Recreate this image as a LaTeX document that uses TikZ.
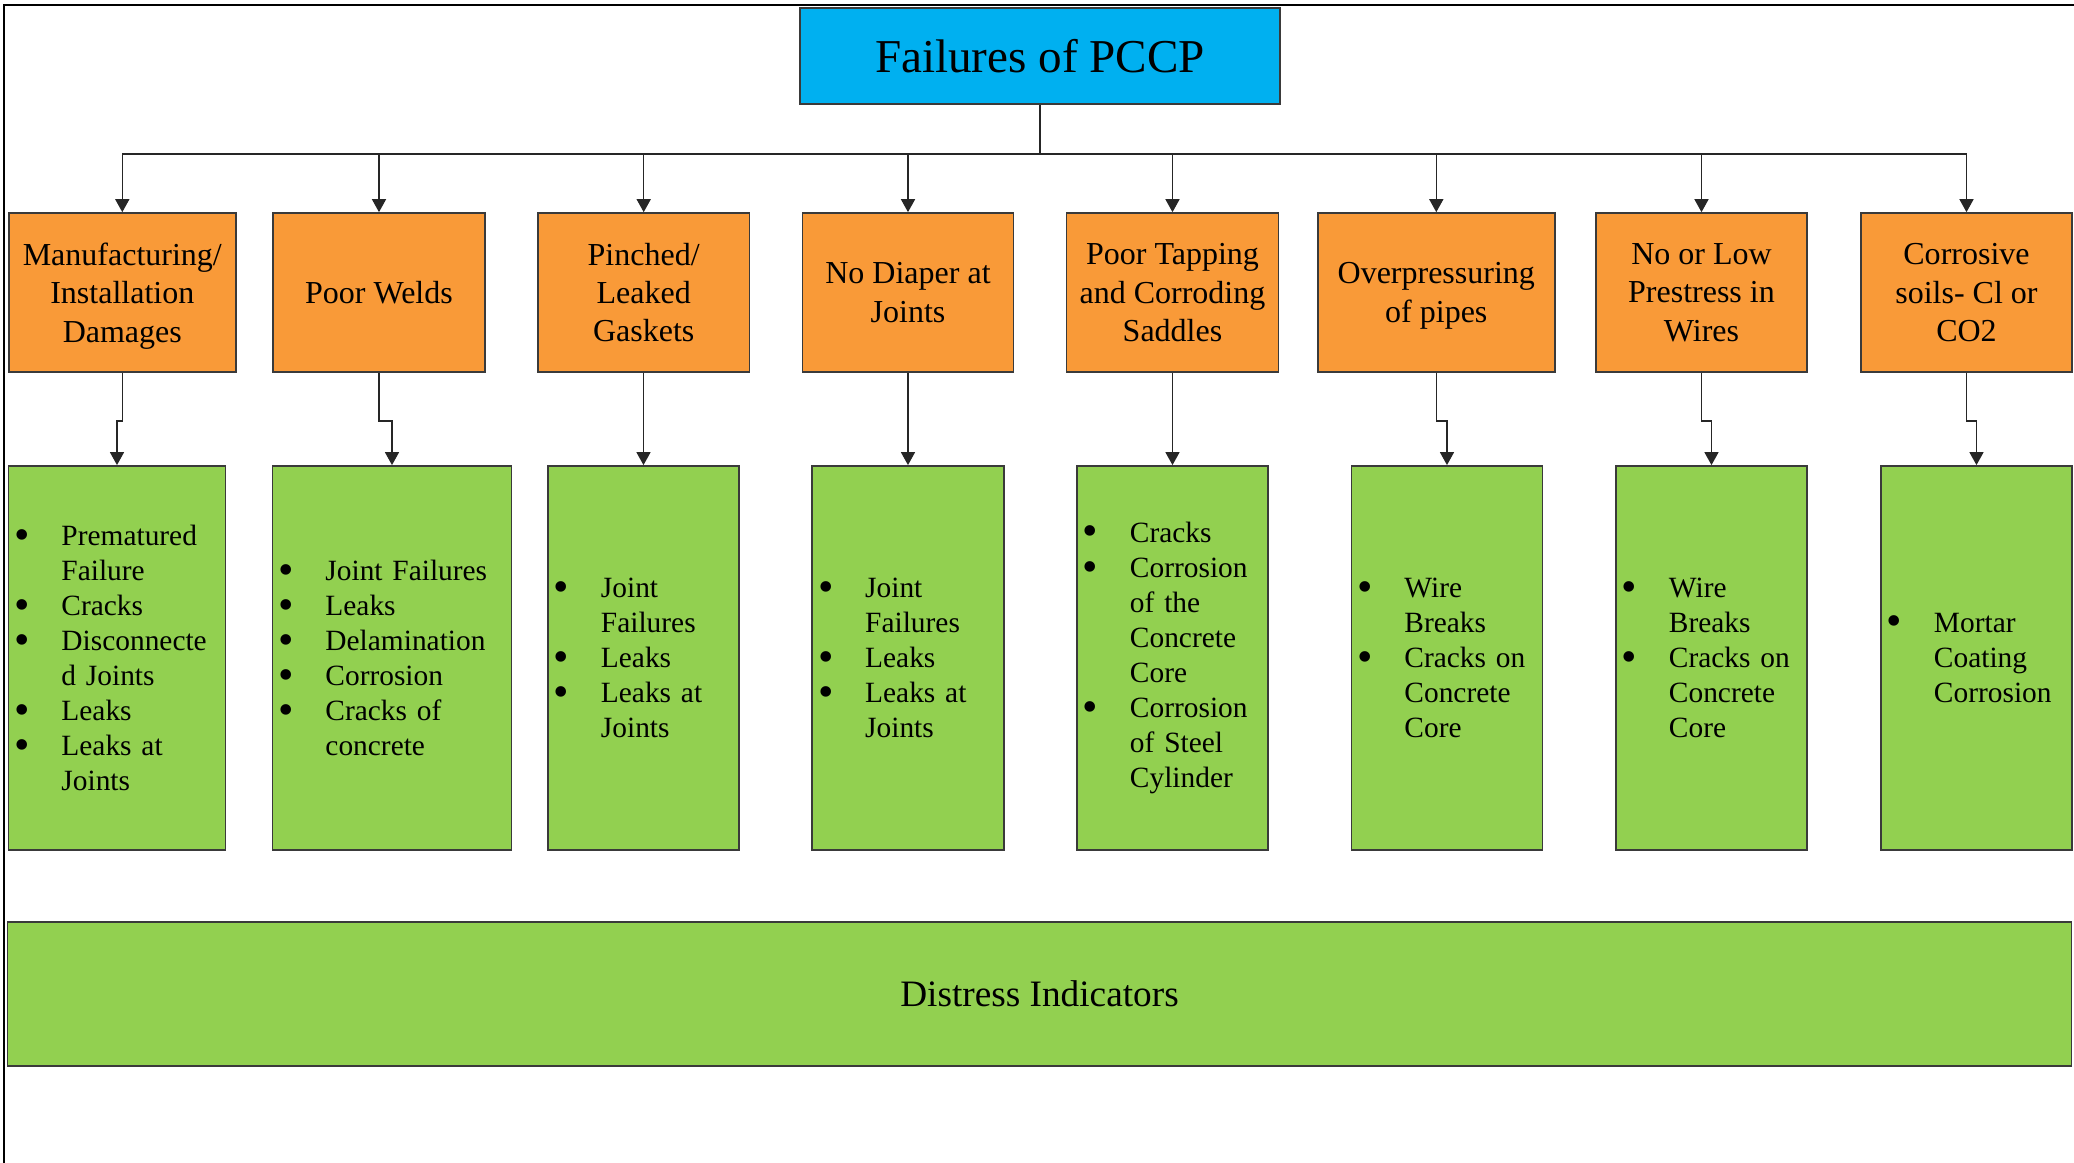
\documentclass[tikz,border=0pt]{standalone}
\usepackage{fontspec}
\setmainfont{Liberation Serif}
\usepackage{xcolor}
\usepackage{graphicx}
\usepackage{tikz}
\usetikzlibrary{arrows.meta}
\definecolor{TitleBlue}{HTML}{00B0F0}
\definecolor{CauseOrange}{HTML}{F99A38}
\definecolor{SignGreen}{HTML}{92D050}
\definecolor{EdgeDark}{HTML}{3A3A3A}

\newcommand\dotmark{\hspace*{-0.05cm}\raisebox{-0.12em}{\scalebox{1.5}{\textbullet}}}
\newcommand\itm[1]{\makebox[0.42cm][l]{\dotmark}\mbox{#1}}
\newcommand\cnt[1]{\hspace*{0.42cm}\mbox{#1}}

\tikzset{
  titlebox/.style={draw=EdgeDark, fill=TitleBlue, line width=0.45pt,
    minimum width=4.8cm, minimum height=0.96cm, inner sep=0pt,
    font=\fontsize{13.4}{16}\selectfont},
  causebox/.style={draw=EdgeDark, fill=CauseOrange, line width=0.45pt,
    minimum height=1.59cm, inner sep=2pt, align=center, text depth=0pt,
    font=\fontsize{9.1}{10.9}\selectfont},
  signbox/.style={draw=EdgeDark, fill=SignGreen, line width=0.45pt,
    minimum height=3.84cm, inner xsep=0.11cm, inner ysep=0pt, align=left,
    font=\fontsize{8.36}{9.96}\selectfont},
  link/.style={draw=black!85, line width=0.4pt,
    -{Triangle[width=4pt,length=3.7pt]}},
}

\begin{document}
\begin{tikzpicture}[x=0.01cm, y=-0.01cm]
        \useasboundingbox (0,0) rectangle (2074,1163);
        \draw[line width=0.55pt] (4,1163) -- (4,5) -- (2074,5);

        \node[titlebox] (pccp) at (1040,56) {Failures of PCCP};

        % failure causes
        \node[causebox, minimum width=2.27cm] (f1) at (122.3,292.5) {Manufacturing/\\Installation\\Damages};
        \node[causebox, minimum width=2.12cm] (f2) at (379,292.5) {Poor Welds};
        \node[causebox, minimum width=2.115cm] (f3) at (643.7,292.5) {Pinched/\\Leaked\\Gaskets};
        \node[causebox, minimum width=2.11cm] (f4) at (908,292.5) {No Diaper at\\Joints};
        \node[causebox, minimum width=2.12cm] (f5) at (1172.5,292.5) {Poor Tapping\\and Corroding\\Saddles};
        \node[causebox, minimum width=2.37cm] (f6) at (1436.3,292.5) {Overpressuring\\of pipes};
        \node[causebox, minimum width=2.11cm] (f7) at (1701.5,292.5) {No or Low\\Prestress in\\Wires};
        \node[causebox, minimum width=2.11cm] (f8) at (1966.5,292.5) {Corrosive\\soils- Cl or\\CO2};

        % distress signs per cause
        \node[signbox, text width=1.95cm] (d1) at (117,658) {%
          \itm{Prematured}\\\cnt{Failure}\\\itm{Cracks}\\\itm{Disconnecte}\\\cnt{d Joints}\\\itm{Leaks}\\\itm{Leaks at}\\\cnt{Joints}};
        \node[signbox, text width=2.17cm] (d2) at (392,658) {%
          \itm{Joint Failures}\\\itm{Leaks}\\\itm{Delamination}\\\itm{Corrosion}\\\itm{Cracks of}\\\cnt{concrete}};
        \node[signbox, text width=1.69cm] (d3) at (643.5,658) {%
          \itm{Joint}\\\cnt{Failures}\\\itm{Leaks}\\\itm{Leaks at}\\\cnt{Joints}};
        \node[signbox, text width=1.695cm] (d4) at (908,658) {%
          \itm{Joint}\\\cnt{Failures}\\\itm{Leaks}\\\itm{Leaks at}\\\cnt{Joints}};
        \node[signbox, text width=1.69cm] (d5) at (1172.5,658) {%
          \itm{Cracks}\\\itm{Corrosion}\\\cnt{of the}\\\cnt{Concrete}\\\cnt{Core}\\\itm{Corrosion}\\\cnt{of Steel}\\\cnt{Cylinder}};
        \node[signbox, text width=1.69cm] (d6) at (1447,658) {%
          \itm{Wire}\\\cnt{Breaks}\\\itm{Cracks on}\\\cnt{Concrete}\\\cnt{Core}};
        \node[signbox, text width=1.69cm] (d7) at (1711.5,658) {%
          \itm{Wire}\\\cnt{Breaks}\\\itm{Cracks on}\\\cnt{Concrete}\\\cnt{Core}};
        \node[signbox, text width=1.69cm] (d8) at (1976.5,658) {%
          \itm{Mortar}\\\cnt{Coating}\\\cnt{Corrosion}};

        \node[draw=EdgeDark, fill=SignGreen, line width=0.45pt, minimum width=20.63cm,
          minimum height=1.44cm, font=\fontsize{10.6}{12}\selectfont]
          (distress) at (1039.5,994) {Distress Indicators};

        % connectors
        \coordinate (bus) at (1040,154);
        \draw[draw=black!85, line width=0.4pt] (pccp.south) -- (bus);
        \foreach \i in {1,...,8}
          \draw[link] (bus) -| (f\i.north);
        \foreach \i in {1,...,8}
          \draw[link] (f\i.south) -- ++(0,48) -| (d\i.north);
\end{tikzpicture}
\end{document}
